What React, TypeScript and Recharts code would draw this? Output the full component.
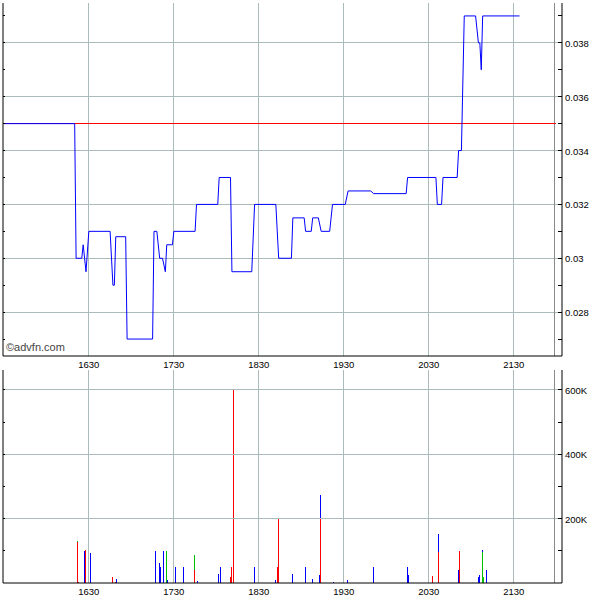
import { Bar, BarChart, Line, LineChart, ReferenceLine, XAxis, YAxis } from "recharts";

// minutes after 15:30
const priceMinutes = [0, 50, 51, 55, 56, 58, 60, 75, 77, 78, 79, 86, 87, 105, 106, 108, 110, 112, 114, 115, 119, 120, 135, 136, 151, 152, 160, 161, 175, 177, 192, 194, 203, 204, 212, 213, 217, 218, 222, 224, 230, 232, 241, 243, 259, 261, 284, 285, 305, 306, 309, 310, 320, 321, 323, 325, 333, 335, 336, 337, 338, 364];
const prices = [0.035, 0.035, 0.03, 0.03, 0.0305, 0.0295, 0.031, 0.031, 0.029, 0.029, 0.0308, 0.0308, 0.027, 0.027, 0.031, 0.031, 0.03, 0.03, 0.0295, 0.0305, 0.0305, 0.031, 0.031, 0.032, 0.032, 0.033, 0.033, 0.0295, 0.0295, 0.032, 0.032, 0.03, 0.03, 0.0315, 0.0315, 0.031, 0.031, 0.0315, 0.0315, 0.031, 0.031, 0.032, 0.032, 0.0325, 0.0325, 0.0324, 0.0324, 0.033, 0.033, 0.032, 0.032, 0.033, 0.033, 0.034, 0.034, 0.039, 0.039, 0.038, 0.038, 0.037, 0.039, 0.039];
const prevClose = 0.035;

// volume in thousands
const volMinutes = [52, 53, 57, 58, 60, 61, 77, 79, 80, 107, 110, 111, 113, 115, 116, 120, 121, 127, 135, 137, 152, 153, 160, 161, 162, 177, 192, 193, 194, 204, 213, 218, 223, 224, 233, 243, 261, 285, 286, 303, 307, 321, 322, 335, 336, 338, 339, 341];
const sellVol = [126, 4, 0, 103, 0, 0, 19, 4, 0, 0, 0, 0, 0, 0, 0, 0, 0, 0, 40, 0, 0, 0, 19, 50, 602, 0, 0, 50, 200, 0, 0, 0, 0, 200, 0, 0, 0, 0, 0, 22, 97, 0, 100, 0, 0, 0, 0, 0];
const buyVol = [5, 0, 0, 0, 0, 0, 0, 0, 0, 0, 0, 0, 0, 100, 0, 0, 0, 0, 48, 0, 0, 0, 0, 0, 0, 0, 0, 0, 3, 0, 0, 0, 0, 0, 0, 0, 0, 0, 0, 0, 0, 0, 0, 0, 0, 95, 19, 0];
const otherVol = [0, 0, 100, 0, 9, 92, 0, 0, 12, 100, 63, 51, 100, 0, 9, 19, 50, 50, 0, 6, 29, 50, 0, 0, 0, 50, 9, 0, 0, 29, 50, 12, 25, 75, 3, 9, 50, 50, 25, 0, 55, 40, 0, 19, 25, 8, 0, 40];

const timeTicks = [60, 120, 180, 240, 300, 360];
const closeMinute = 388.5;
const priceTicks = [0.027, 0.028, 0.029, 0.03, 0.031, 0.032, 0.033, 0.034, 0.035, 0.036, 0.037, 0.038, 0.039];
const priceGrid = [0.028, 0.03, 0.032, 0.034, 0.036, 0.038];
const volTicks = [100, 200, 300, 400, 500, 600];
const volGrid = [200, 400, 600];

const xDomain: [number, number] = [-0.6, 394];
const priceDomain: [number, number] = [0.02637, 0.03948];
const volDomain: [number, number] = [0, 662];

const priceData = priceMinutes.map((m, i) => ({ m, price: prices[i] }));
const volData = volMinutes.map((m, i) => ({ m, sell: sellVol[i], buy: buyVol[i], other: otherVol[i] }));

const font = "'Liberation Sans', Arial, sans-serif";
const gridColor = "#abbaba";
const tickFont = { fontSize: 9.5, fill: "#000", fontFamily: font };

const timeLabel = (m: number) => {
  const total = 15 * 60 + 30 + m;
  const h = Math.floor(total / 60);
  const mm = total % 60;
  return `${h}${String(mm).padStart(2, "0")}`;
};

const priceLabel = (v: number) => String(Math.round(v * 1000) / 1000);
const isMajorPrice = (v: number) => Math.round(v * 1000) % 2 === 0;

function RightTick(props: any) {
  const { x, y, payload, major, fmt } = props;
  return (
    <g>
      <line x1={x - 4} x2={x} y1={y} y2={y} stroke="#000" shapeRendering="crispEdges" />
      {major(payload.value) && (
        <text x={x + 3} y={y} dy={4} fontSize={9.5} fontFamily={font} fill="#000">
          {fmt(payload.value)}
        </text>
      )}
    </g>
  );
}

function LeftTick(props: any) {
  const { x, y } = props;
  return <line x1={x} x2={x + 2} y1={y} y2={y} stroke="#000" shapeRendering="crispEdges" />;
}

export default function App() {
  return (
    <div style={{ position: "absolute", left: 0, top: 0, width: 600, height: 600, background: "#fff", fontFamily: font }}>
      <div style={{ position: "absolute", left: 0, top: 0 }}>
        <LineChart width={600} height={370} data={priceData} margin={{ top: 3, right: 0, bottom: 0, left: 0 }}>
          <XAxis xAxisId="top" orientation="top" type="number" dataKey="m" domain={xDomain} allowDataOverflow height={0} tick={false} tickLine={false} axisLine={{ stroke: "#000" }} />
          <XAxis
            type="number"
            dataKey="m"
            domain={xDomain}
            allowDataOverflow
            ticks={timeTicks}
            interval={0}
            tickFormatter={timeLabel}
            height={14}
            tickLine={false}
            tickSize={0}
            tickMargin={5}
            axisLine={{ stroke: "#000" }}
            tick={tickFont}
          />
          <YAxis yAxisId="left" orientation="left" type="number" domain={priceDomain} allowDataOverflow width={3} ticks={priceTicks} interval={0} tickLine={false} tickSize={0} tickMargin={0} axisLine={{ stroke: "#000" }} tick={(p: any) => <LeftTick {...p} />} />
          <YAxis
            yAxisId="price"
            orientation="right"
            type="number"
            domain={priceDomain}
            allowDataOverflow
            width={38}
            ticks={priceTicks}
            interval={0}
            tickLine={false}
            tickSize={0}
            tickMargin={0}
            axisLine={{ stroke: "#000" }}
            tick={(p: any) => <RightTick {...p} major={isMajorPrice} fmt={priceLabel} />}
          />
          {priceGrid.map((v) => (
            <ReferenceLine key={v} yAxisId="price" y={v} stroke={gridColor} shapeRendering="crispEdges" />
          ))}
          {timeTicks.map((t) => (
            <ReferenceLine key={t} yAxisId="price" x={t} stroke={gridColor} shapeRendering="crispEdges" />
          ))}
          <ReferenceLine yAxisId="price" x={closeMinute} stroke="#8a8a8a" shapeRendering="crispEdges" />
          <ReferenceLine
            yAxisId="price"
            segment={[
              { x: xDomain[0], y: prevClose },
              { x: closeMinute + 1, y: prevClose },
            ]}
            stroke="#ff0000"
            strokeWidth={1}
            shapeRendering="crispEdges"
          />
          <Line yAxisId="price" type="linear" dataKey="price" stroke="#0000ff" strokeWidth={1} dot={false} isAnimationActive={false} />
        </LineChart>
      </div>
      <div style={{ position: "absolute", left: 0, top: 367 }}>
        <BarChart width={600} height={233} data={volData} margin={{ top: 3, right: 0, bottom: 0, left: 0 }} barSize={1}>
          <XAxis xAxisId="top" orientation="top" type="number" dataKey="m" domain={xDomain} allowDataOverflow height={0} tick={false} tickLine={false} axisLine={{ stroke: "#000" }} />
          <XAxis
            type="number"
            dataKey="m"
            domain={xDomain}
            allowDataOverflow
            ticks={timeTicks}
            interval={0}
            tickFormatter={timeLabel}
            height={17}
            tickLine={false}
            tickSize={0}
            tickMargin={5}
            axisLine={{ stroke: "#000" }}
            tick={tickFont}
          />
          <YAxis yAxisId="left" orientation="left" type="number" domain={volDomain} allowDataOverflow width={3} ticks={volTicks} interval={0} tickLine={false} tickSize={0} tickMargin={0} axisLine={{ stroke: "#000" }} tick={(p: any) => <LeftTick {...p} />} />
          <YAxis
            yAxisId="vol"
            orientation="right"
            type="number"
            domain={volDomain}
            allowDataOverflow
            width={38}
            ticks={volTicks}
            interval={0}
            tickLine={false}
            tickSize={0}
            tickMargin={0}
            axisLine={{ stroke: "#000" }}
            tick={(p: any) => <RightTick {...p} major={(v: number) => v % 200 === 0} fmt={(v: number) => `${v}K`} />}
          />
          {volGrid.map((v) => (
            <ReferenceLine key={v} yAxisId="vol" y={v} stroke={gridColor} shapeRendering="crispEdges" />
          ))}
          {timeTicks.map((t) => (
            <ReferenceLine key={t} yAxisId="vol" x={t} stroke={gridColor} shapeRendering="crispEdges" />
          ))}
          <ReferenceLine yAxisId="vol" x={closeMinute} stroke="#8a8a8a" shapeRendering="crispEdges" />
          <Bar yAxisId="vol" dataKey="sell" stackId="v" fill="#ff0000" shapeRendering="crispEdges" isAnimationActive={false} />
          <Bar yAxisId="vol" dataKey="buy" stackId="v" fill="#00c000" shapeRendering="crispEdges" isAnimationActive={false} />
          <Bar yAxisId="vol" dataKey="other" stackId="v" fill="#0000ff" shapeRendering="crispEdges" isAnimationActive={false} />
        </BarChart>
      </div>
      <svg width={600} height={600} style={{ position: "absolute", left: 0, top: 0, pointerEvents: "none" }}>
        <text x={6} y={351} fontSize={11} fontFamily={font} fill="#444">
          ©advfn.com
        </text>
      </svg>
    </div>
  );
}
